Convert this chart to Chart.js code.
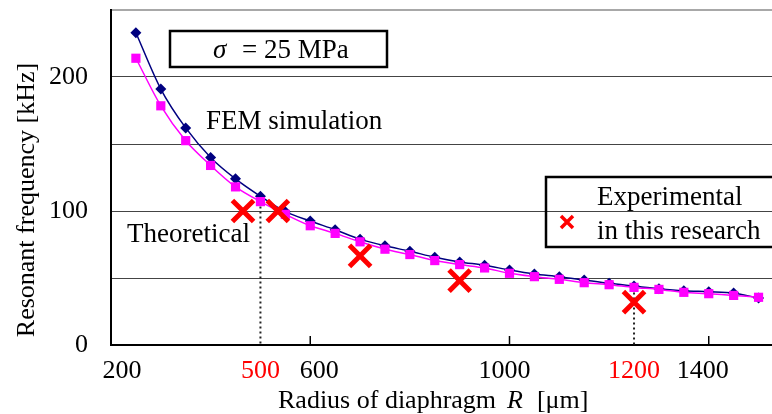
<!DOCTYPE html>
<html>
<head>
<meta charset="utf-8">
<script src="https://cdn.jsdelivr.net/npm/chart.js@4.4.0/dist/chart.umd.min.js"></script>
<style>
  html, body { margin: 0; padding: 0; background: #fff; }
</style>
</head>
<body>
<canvas id="freqChart" width="772" height="414"></canvas>
<script>
// diaphragm radius R [um] and resonant frequency [kHz]
const radius = [250, 300, 350, 400, 450, 500, 550, 600, 650, 700, 750, 800, 850,
                900, 950, 1000, 1050, 1100, 1150, 1200, 1250, 1300, 1350, 1400, 1450, 1500];
const femFreq = [233, 191, 162, 140, 124, 111, 99.5, 92.5, 86, 79, 74, 70, 65.5,
                 62, 59.5, 56, 53, 51, 48.5, 46, 44, 42, 40.5, 39.8, 38.8, 35];
const theoFreq = [214, 178.5, 152.5, 134, 118, 107, 97.5, 89, 83.3, 77, 71.5, 67.5, 63,
                  60, 57.5, 53.5, 51, 49, 46.5, 45, 43, 41.5, 39.3, 38.3, 37, 35.6];
const expRadius = [465, 535, 700, 900, 1250];
const expFreq = [100, 100, 66.5, 48, 32];

const xTickValues = [200, 600, 1000, 1400];
const xTickLabels = ['200', '600', '1000', '1400'];
const markedRadius = [500, 1250];
const markedLabels = ['500', '1200'];
const yTickLabels = ['0', '100', '200'];

const SERIF = "'Liberation Serif', 'Times New Roman', serif";

function toPoints(xs, ys) {
  return xs.map((x, i) => ({ x: x, y: ys[i] }));
}

const annotations = {
  id: 'annotations',
  beforeDatasetsDraw(chart) {
    const ctx = chart.ctx;
    const xs = chart.scales.x, ys = chart.scales.y;
    // dotted guide lines from the curve down to the axis
    ctx.save();
    ctx.strokeStyle = '#222';
    ctx.lineWidth = 2;
    ctx.setLineDash([2, 3]);
    markedRadius.forEach(r => {
      const idx = radius.indexOf(r);
      const px = xs.getPixelForValue(r);
      ctx.beginPath();
      ctx.moveTo(px, ys.getPixelForValue(theoFreq[idx]));
      ctx.lineTo(px, ys.getPixelForValue(0));
      ctx.stroke();
    });
    ctx.setLineDash([]);
    // small inside tick marks on the x axis
    ctx.strokeStyle = '#000';
    ctx.lineWidth = 1.5;
    xTickValues.slice(1).forEach(v => {
      const px = xs.getPixelForValue(v);
      ctx.beginPath();
      ctx.moveTo(px, ys.getPixelForValue(0));
      ctx.lineTo(px, ys.getPixelForValue(0) - 9);
      ctx.stroke();
    });
    ctx.restore();
  },
  afterDraw(chart) {
    const ctx = chart.ctx;
    const xs = chart.scales.x;
    ctx.save();
    ctx.textBaseline = 'alphabetic';
    ctx.font = '26px ' + SERIF;
    // x tick labels
    ctx.fillStyle = '#000';
    ctx.textAlign = 'center';
    const nudge = [11, 9, -5, -6];
    xTickValues.forEach((v, i) => {
      ctx.fillText(xTickLabels[i], xs.getPixelForValue(v) + nudge[i], 378);
    });
    ctx.fillStyle = '#ff0000';
    markedRadius.forEach((v, i) => {
      ctx.fillText(markedLabels[i], xs.getPixelForValue(v), 378);
    });

    // x axis title
    ctx.fillStyle = '#000';
    ctx.textAlign = 'left';
    let x = 278;
    ctx.font = '26px ' + SERIF;
    ctx.fillText('Radius of diaphragm', x, 408);
    x += ctx.measureText('Radius of diaphragm').width + 11;
    ctx.font = 'italic 26px ' + SERIF;
    ctx.fillText('R', x, 408);
    x += ctx.measureText('R').width + 14;
    ctx.font = '26px ' + SERIF;
    ctx.fillText('[\u03bcm]', x, 408);

    // y axis title
    ctx.save();
    ctx.translate(34, 200);
    ctx.rotate(-Math.PI / 2);
    ctx.textAlign = 'center';
    ctx.font = '26px ' + SERIF;
    ctx.fillText('Resonant frequency [kHz]', 0, 0);
    ctx.restore();

    // stress box
    ctx.lineWidth = 2.5;
    ctx.strokeStyle = '#000';
    ctx.fillStyle = '#fff';
    ctx.fillRect(170, 31, 217, 36);
    ctx.strokeRect(170, 31, 217, 36);
    ctx.fillStyle = '#000';
    ctx.font = 'italic 27px ' + SERIF;
    ctx.fillText('\u03c3', 213, 58);
    ctx.font = '27px ' + SERIF;
    ctx.fillText('= 25 MPa', 242, 58);

    // curve labels
    ctx.fillText('FEM simulation', 206, 129);
    ctx.fillText('Theoretical', 127, 242);

    // legend box for experimental data
    ctx.strokeRect(546, 177, 232, 70);
    ctx.fillText('Experimental', 597, 205);
    ctx.fillText('in this research', 597, 239);
    ctx.strokeStyle = '#ff0000';
    ctx.lineWidth = 3.5;
    ctx.beginPath();
    ctx.moveTo(561, 216); ctx.lineTo(573, 228);
    ctx.moveTo(573, 216); ctx.lineTo(561, 228);
    ctx.stroke();
    ctx.restore();
  }
};

const data = {
  datasets: [
    {
      label: 'Experimental in this research',
      data: toPoints(expRadius, expFreq),
      showLine: false,
      pointStyle: 'crossRot',
      pointRadius: 15,
      pointBorderWidth: 5,
      borderColor: '#ff0000',
      backgroundColor: '#ff0000',
      clip: false,
      order: 0
    },
    {
      label: 'Theoretical',
      data: toPoints(radius, theoFreq),
      showLine: true,
      borderColor: '#ff00ff',
      backgroundColor: '#ff00ff',
      borderWidth: 1.5,
      pointStyle: 'rect',
      pointRadius: 6.5,
      pointBorderWidth: 0,
      tension: 0.3,
      clip: false,
      order: 1
    },
    {
      label: 'FEM simulation',
      data: toPoints(radius, femFreq),
      showLine: true,
      borderColor: '#000080',
      backgroundColor: '#000080',
      borderWidth: 1.5,
      pointStyle: 'rectRot',
      pointRadius: 5.5,
      pointBorderWidth: 0,
      tension: 0.3,
      clip: false,
      order: 2
    }
  ]
};

const config = {
  type: 'scatter',
  data,
  options: {
    responsive: false,
    animation: false,
    layout: { autoPadding: false, padding: { top: 10, right: 0, left: 0, bottom: 0 } },
    plugins: {
      legend: { display: false },
      tooltip: { enabled: false }
    },
    scales: {
      x: {
        type: 'linear',
        min: 200,
        max: 1527,
        ticks: { display: false },
        grid: { display: false },
        border: { display: true, color: '#000', width: 2 },
        afterFit(scale) {
          scale.height = 69;
          scale.paddingLeft = 0;
          scale.paddingRight = 0;
        }
      },
      y: {
        min: 0,
        max: 250,
        ticks: {
          stepSize: 50,
          padding: 23,
          color: '#000',
          font: { family: SERIF, size: 26 },
          callback: v => (v % 100 === 0 && v <= 200) ? yTickLabels[v / 100] : ''
        },
        grid: {
          drawTicks: false,
          lineWidth: ctx => ctx.tick && ctx.tick.value === 250 ? 2 : 1,
          color: ctx => {
            if (!ctx.tick) return '#444';
            if (ctx.tick.value === 0) return 'rgba(0,0,0,0)';
            if (ctx.tick.value === 250) return '#a8a8a8';
            return '#444';
          }
        },
        border: { display: true, color: '#000', width: 2 },
        afterFit(scale) {
          scale.width = 111;
          scale.paddingTop = 0;
          scale.paddingBottom = 0;
        }
      }
    }
  },
  plugins: [annotations]
};

const freqChart = new Chart(document.getElementById('freqChart').getContext('2d'), config);
</script>
</body>
</html>
